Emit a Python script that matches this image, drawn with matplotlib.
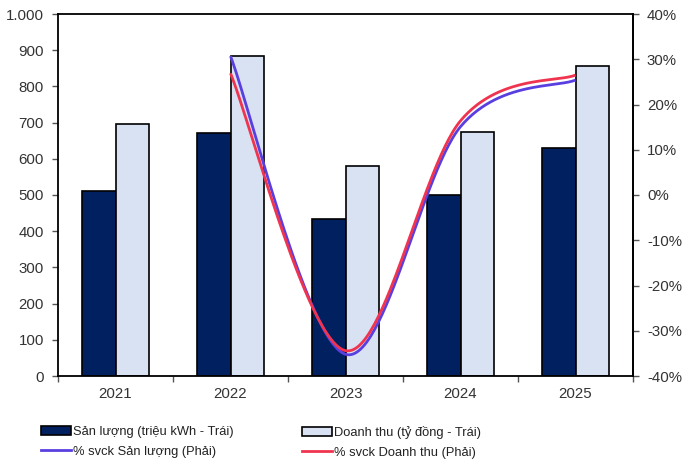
import numpy as np
import matplotlib
matplotlib.use("Agg")
import matplotlib.pyplot as plt
from matplotlib.patches import Patch
from matplotlib.lines import Line2D

# ---- data ------------------------------------------------------------
years = ["2021", "2022", "2023", "2024", "2025"]
san_luong = [511, 671, 435, 501, 631]          # triệu kWh
doanh_thu = [695, 884, 580, 675, 856]          # tỷ đồng
yoy_years = ["2022", "2023", "2024", "2025"]
yoy_san_luong = [30.7, -35.2, 15.1, 25.4]      # %
yoy_doanh_thu = [26.9, -34.4, 16.4, 26.5]      # %

left_ticks = list(range(0, 1001, 100))
left_labels = ["0", "100", "200", "300", "400", "500", "600", "700", "800", "900", "1.000"]
right_ticks = list(range(-40, 41, 10))
right_labels = [f"{v}%" for v in right_ticks]

NAVY, LIGHT = "#002060", "#d9e2f3"
BLUE, RED = "#5a3fe0", "#f0344f"
TXT = "#333333"

plt.rcParams.update({
    "font.family": ["Liberation Sans", "DejaVu Sans"],
    "font.size": 10.8,
})


def smooth(xs, ys, n=60):
    """Catmull-Rom style bezier through the points (spreadsheet 'smoothed line')."""
    p = np.column_stack([xs, ys]).astype(float)
    outx, outy = [], []
    t = np.linspace(0, 1, n)[:, None]
    for i in range(len(p) - 1):
        p0 = p[i - 1] if i > 0 else p[i]
        p1, p2 = p[i], p[i + 1]
        p3 = p[i + 2] if i + 2 < len(p) else p[i + 1]
        c1 = p1 + (p2 - p0) / 6
        c2 = p2 - (p3 - p1) / 6
        b = ((1 - t) ** 3) * p1 + 3 * ((1 - t) ** 2) * t * c1 + 3 * (1 - t) * t ** 2 * c2 + t ** 3 * p2
        outx.extend(b[:, 0]); outy.extend(b[:, 1])
    return np.array(outx), np.array(outy)


fig = plt.figure(figsize=(6.85, 4.66), dpi=100)
ax = fig.add_axes([58 / 685, 90 / 466, 575 / 685, 362 / 466])

x = np.arange(len(years))
w = 0.287
ax.bar(x - w / 2, san_luong, w, color=NAVY, edgecolor="black", linewidth=1.2, zorder=2)
ax.bar(x + w / 2, doanh_thu, w, color=LIGHT, edgecolor="black", linewidth=1.2, zorder=2)

ax.set_xlim(-0.5, len(years) - 0.5)
ax.set_ylim(0, 1000)
ax.set_yticks(left_ticks)
ax.set_yticklabels(left_labels)
ax.set_xticks(x)
ax.set_xticklabels(years)
ax.set_xticks(np.arange(-0.5, len(years)), minor=True)
ax.tick_params(axis="x", which="major", length=0, pad=8, colors=TXT, labelcolor=TXT)
ax.tick_params(axis="x", which="minor", length=4, width=1, color="#555555")
ax.tick_params(axis="y", length=4, width=1, color="#555555", labelcolor=TXT, pad=6)
for s in ax.spines.values():
    s.set_color("black"); s.set_linewidth(1.3)

ax2 = ax.twinx()
ax2.set_ylim(-40, 40)
ax2.set_yticks(right_ticks)
ax2.set_yticklabels(right_labels)
ax2.tick_params(axis="y", length=4, width=1, color="#555555", labelcolor=TXT, pad=6)
for k in ["left", "top", "bottom"]:
    ax2.spines[k].set_visible(False)
ax2.spines["right"].set_color("black"); ax2.spines["right"].set_linewidth(1.3)

lx = [years.index(y) for y in yoy_years]
sx, sy = smooth(lx, yoy_san_luong)
ax2.plot(sx, sy, color=BLUE, lw=2.0, solid_capstyle="butt", zorder=3)
rx, ry = smooth(lx, yoy_doanh_thu)
ax2.plot(rx, ry, color=RED, lw=2.0, solid_capstyle="butt", zorder=4)

# ---- legend: two columns placed independently ------------------------
kw = dict(loc="upper left", frameon=False, handlelength=2.3, handleheight=0.65,
          handletextpad=0.15, labelspacing=0.6, borderpad=0, borderaxespad=0,
          prop={"size": 9.3}, labelcolor="#222222")
fig.legend(handles=[Patch(facecolor=NAVY, edgecolor="black", linewidth=1.2,
                          label="Sản lượng (triệu kWh - Trái)"),
                    Line2D([], [], color=BLUE, lw=2.0, label="% svck Sản lượng (Phải)")],
           bbox_to_anchor=(41 / 685, 1 - 426 / 466), **kw)
fig.legend(handles=[Patch(facecolor=LIGHT, edgecolor="black", linewidth=1.2,
                          label="Doanh thu (tỷ đồng - Trái)"),
                    Line2D([], [], color=RED, lw=2.0, label="% svck Doanh thu (Phải)")],
           bbox_to_anchor=(302 / 685, 1 - 426 / 466), **kw)

fig.savefig("out.png", dpi=100)
